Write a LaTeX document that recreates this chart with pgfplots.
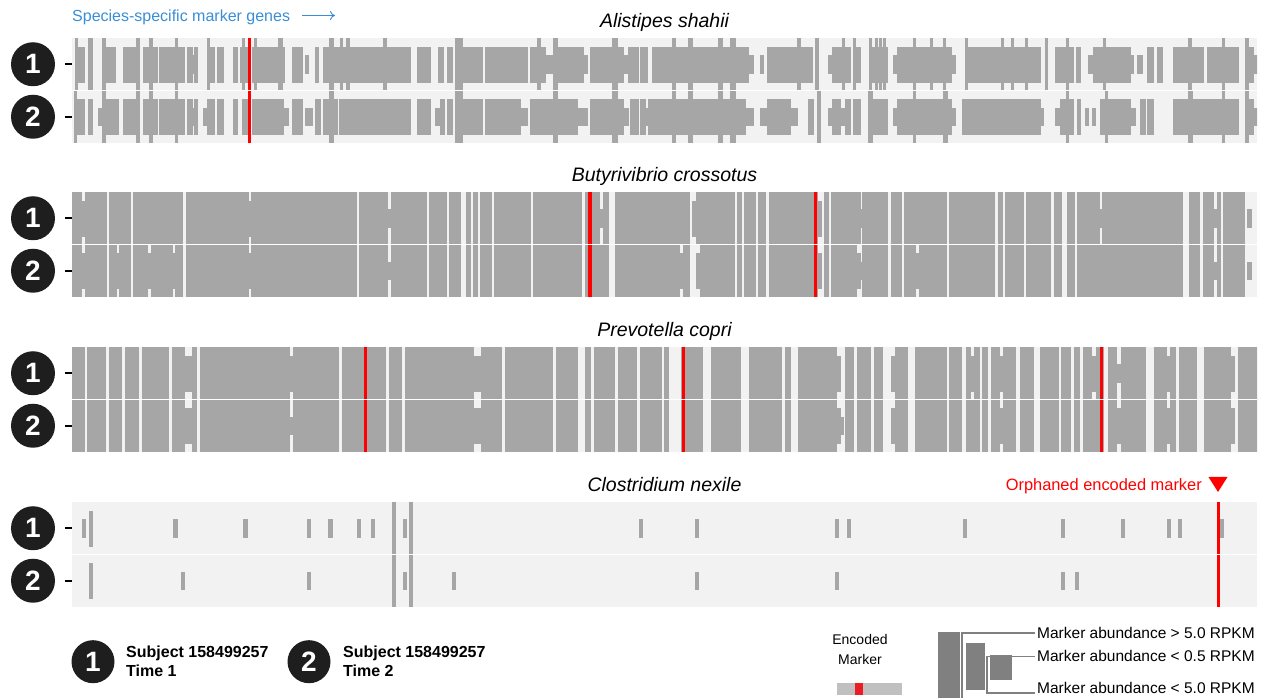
\documentclass[border=0pt]{standalone}
\usepackage{fontspec}
\setmainfont{Liberation Sans}
\usepackage{pgfplots}
\pgfplotsset{compat=1.18}
\usepackage{pgfplotstable}
\usetikzlibrary{arrows.meta}
\definecolor{bgc}{HTML}{F2F2F2}
\definecolor{barc}{HTML}{A6A6A6}
\definecolor{mred}{HTML}{FF0000}
\definecolor{circ}{HTML}{1E1E1E}
\definecolor{blu}{HTML}{3A8DD6}
\definecolor{leggray}{HTML}{808080}
\definecolor{legbar}{HTML}{C0C0C0}
\definecolor{legred}{HTML}{ED1C24}
\pgfdeclareplotmark{emptymark}{}

% marker genes: level 0 none, 1 < 0.5 RPKM, 2 < 5.0 RPKM, 3 > 5.0 RPKM ; level holds from x to next x
\pgfplotstableread[row sep=\\]{x l\\72 0\\75 3\\77 2\\84 0\\88 3\\92 0\\102 3\\105 2\\115 0\\123 2\\136 3\\139 0\\143 2\\149 3\\152 2\\157 0\\159 2\\175 3\\177 2\\184 0\\187 2\\192 1\\194 2\\197 0\\207 3\\209 2\\214 0\\217 2\\223 0\\233 2\\237 0\\240 2\\242 3\\244 2\\248 0\\252 2\\254 3\\256 2\\267 0\\268 2\\278 3\\282 2\\284 0\\292 2\\302 0\\305 1\\308 0\\315 2\\318 0\\323 2\\329 3\\333 2\\337 0\\338 2\\340 3\\342 2\\346 3\\349 2\\383 3\\386 2\\410 0\\417 2\\430 0\\438 2\\443 0\\447 2\\452 0\\455 3\\462 2\\482 0\\485 2\\527 0\\530 2\\537 3\\540 2\\545 1\\553 3\\557 2\\583 1\\587 0\\590 2\\612 3\\617 0\\618 2\\623 1\\628 2\\638 0\\640 2\\647 0\\652 2\\672 3\\675 2\\687 0\\688 3\\692 2\\718 3\\722 2\\730 3\\735 2\\748 1\\753 0\\760 1\\763 0\\767 2\\797 3\\800 2\\812 0\\815 3\\818 0\\828 1\\832 2\\842 3\\844 2\\850 0\\853 3\\855 2\\860 0\\869 3\\871 2\\875 3\\877 2\\879 3\\881 2\\883 3\\885 2\\887 0\\893 1\\897 2\\913 3\\915 2\\930 3\\932 2\\943 3\\945 2\\951 1\\955 0\\965 3\\967 2\\1001 3\\1003 2\\1011 3\\1013 2\\1025 3\\1027 2\\1040 0\\1045 3\\1047 0\\1055 2\\1066 3\\1068 2\\1073 0\\1076 2\\1080 0\\1088 1\\1093 2\\1097 0\\1098 2\\1102 0\\1103 3\\1105 2\\1130 1\\1133 0\\1137 1\\1142 0\\1147 2\\1153 0\\1157 2\\1162 0\\1173 2\\1188 3\\1191 2\\1203 0\\1207 2\\1222 3\\1224 2\\1238 0\\1245 3\\1248 2\\1253 1\\1257 0\\}\rowAa
\pgfplotstableread[row sep=\\]{x l\\72 0\\74 3\\76 2\\84 0\\88 2\\92 0\\98 1\\102 3\\105 2\\118 0\\123 2\\136 3\\139 0\\143 2\\149 3\\152 2\\157 0\\159 2\\175 3\\177 2\\184 0\\187 2\\192 1\\194 2\\197 0\\203 1\\207 2\\214 0\\217 2\\223 0\\233 2\\237 0\\242 2\\247 0\\252 2\\267 0\\268 2\\283 1\\288 0\\292 2\\302 0\\305 1\\312 0\\315 2\\320 0\\323 2\\329 3\\333 2\\337 0\\339 2\\410 0\\417 2\\430 0\\435 1\\440 2\\444 0\\447 2\\452 0\\455 3\\462 2\\482 0\\485 2\\520 1\\527 0\\530 2\\553 3\\557 2\\577 1\\587 0\\590 2\\612 3\\617 0\\618 2\\623 1\\628 0\\630 2\\638 0\\640 2\\645 1\\648 2\\672 3\\675 2\\687 0\\688 3\\692 2\\718 3\\722 2\\730 3\\735 2\\745 1\\753 0\\760 1\\767 2\\790 1\\797 0\\808 2\\813 0\\817 3\\820 0\\828 1\\832 2\\840 1\\845 2\\850 0\\853 2\\860 0\\868 3\\872 2\\887 0\\893 1\\897 2\\913 3\\915 2\\943 3\\947 2\\951 1\\955 0\\962 2\\972 0\\973 2\\987 0\\988 2\\1040 1\\1043 0\\1055 1\\1060 2\\1066 3\\1068 2\\1073 0\\1077 2\\1080 0\\1085 1\\1088 0\\1092 1\\1095 0\\1100 2\\1105 3\\1107 2\\1130 1\\1135 0\\1140 2\\1145 0\\1147 2\\1153 0\\1173 2\\1188 3\\1192 2\\1222 3\\1224 2\\1238 0\\1245 3\\1248 2\\1253 1\\1257 0\\}\rowAb
\pgfplotstableread[row sep=\\]{x l\\72 3\\81 2\\85 3\\106 0\\109 3\\130 0\\133 3\\182 0\\186 3\\248 2\\251 3\\356 0\\359 3\\387 1\\391 3\\426 0\\429 3\\446 0\\449 3\\460 0\\466 3\\470 0\\473 3\\477 0\\480 3\\491 0\\494 3\\530 0\\533 3\\581 0\\585 3\\599 1\\603 3\\608 0\\615 3\\689 0\\692 2\\696 3\\734 0\\737 3\\741 0\\744 3\\755 0\\758 3\\765 0\\769 3\\817 2\\821 0\\824 3\\828 0\\831 3\\860 1\\862 3\\887 0\\891 3\\901 0\\904 3\\946 0\\949 3\\994 0\\998 3\\1002 0\\1005 3\\1023 0\\1026 3\\1050 0\\1054 3\\1061 0\\1067 3\\1074 0\\1077 3\\1099 1\\1102 3\\1182 0\\1189 3\\1199 0\\1203 3\\1213 1\\1217 3\\1220 0\\1223 3\\1244 0\\1247 1\\1251 0\\1257 0\\}\rowBa
\pgfplotstableread[row sep=\\]{x l\\72 3\\81 2\\85 3\\106 0\\109 3\\116 2\\119 3\\130 0\\133 3\\147 2\\151 3\\172 2\\175 3\\182 0\\186 3\\248 2\\251 3\\356 0\\359 3\\387 1\\391 3\\426 0\\429 3\\446 0\\449 3\\460 0\\466 3\\470 0\\473 3\\477 0\\480 3\\491 0\\494 3\\530 0\\533 3\\581 0\\585 3\\608 0\\615 3\\679 2\\683 3\\689 0\\696 2\\700 3\\734 0\\737 3\\741 0\\744 3\\755 0\\758 3\\765 0\\769 3\\817 2\\821 0\\824 3\\828 0\\831 3\\856 2\\860 1\\862 3\\887 0\\891 3\\901 0\\904 3\\915 2\\919 3\\946 0\\949 3\\994 0\\998 3\\1002 0\\1005 3\\1023 0\\1026 3\\1050 0\\1054 3\\1061 0\\1067 3\\1074 0\\1077 3\\1182 0\\1189 3\\1199 0\\1203 3\\1213 1\\1217 3\\1220 0\\1223 3\\1244 0\\1247 1\\1251 0\\1257 0\\}\rowBb
\pgfplotstableread[row sep=\\]{x l\\72 3\\84 0\\87 3\\105 0\\109 3\\121 0\\125 3\\138 0\\142 3\\168 0\\172 3\\184 2\\192 3\\196 0\\200 3\\289 2\\293 3\\338 0\\342 3\\385 0\\389 3\\401 0\\405 3\\473 2\\481 3\\501 0\\505 3\\552 0\\556 3\\577 0\\585 3\\590 0\\594 3\\614 0\\618 3\\636 0\\640 3\\661 0\\664 3\\668 0\\681 3\\702 0\\711 3\\740 0\\749 3\\781 0\\785 3\\790 0\\798 3\\836 2\\840 0\\845 3\\853 0\\857 3\\870 0\\874 3\\882 0\\891 2\\895 3\\907 0\\915 3\\946 0\\949 3\\961 0\\966 3\\970 2\\974 3\\979 0\\982 3\\987 0\\991 3\\999 2\\1003 3\\1015 0\\1020 3\\1033 0\\1040 3\\1058 0\\1061 3\\1070 0\\1074 3\\1079 0\\1083 3\\1091 2\\1096 3\\1103 0\\1108 3\\1116 1\\1121 3\\1145 0\\1154 3\\1166 2\\1170 3\\1175 0\\1179 3\\1196 0\\1204 3\\1230 2\\1234 0\\1238 3\\1257 0\\}\rowCa
\pgfplotstableread[row sep=\\]{x l\\72 3\\84 0\\87 3\\105 0\\109 3\\121 0\\125 3\\138 0\\142 3\\168 0\\172 3\\184 2\\192 3\\196 0\\200 3\\289 1\\293 3\\338 0\\342 3\\385 0\\389 3\\401 0\\405 3\\473 2\\481 3\\501 0\\505 3\\552 0\\556 3\\577 0\\585 3\\590 0\\594 3\\614 0\\618 3\\636 0\\640 3\\661 0\\664 3\\668 0\\681 3\\702 0\\711 3\\740 0\\749 3\\781 0\\785 3\\790 0\\798 3\\836 2\\840 1\\843 0\\845 3\\853 0\\857 3\\870 0\\874 3\\882 0\\891 2\\895 3\\907 0\\915 3\\946 0\\949 3\\961 0\\966 3\\979 0\\982 3\\987 0\\991 3\\999 2\\1003 3\\1015 0\\1020 3\\1033 0\\1040 3\\1058 0\\1061 3\\1070 0\\1074 3\\1079 0\\1083 3\\1103 0\\1108 3\\1116 2\\1121 3\\1145 0\\1154 3\\1166 2\\1170 3\\1175 0\\1179 3\\1196 0\\1204 3\\1230 2\\1234 0\\1238 3\\1257 0\\}\rowCb
\pgfplotstableread[row sep=\\]{x l\\72 0\\82 1\\85 0\\89 2\\92 0\\173 1\\177 0\\243 1\\247 0\\307 1\\310 0\\328 1\\332 0\\357 1\\360 0\\371 1\\374 0\\392 3\\395 0\\403 1\\406 0\\409 3\\412 0\\639 1\\642 0\\695 1\\698 0\\835 1\\838 0\\847 1\\850 0\\963 1\\966 0\\1061 1\\1064 0\\1121 1\\1124 0\\1167 1\\1170 0\\1178 1\\1181 0\\1220 1\\1223 0\\1257 0\\}\rowDa
\pgfplotstableread[row sep=\\]{x l\\72 0\\89 2\\92 0\\181 1\\184 0\\307 1\\310 0\\392 3\\395 0\\403 1\\406 0\\409 3\\412 0\\452 1\\455 0\\695 1\\698 0\\835 1\\838 0\\1061 1\\1064 0\\1075 1\\1078 0\\1257 0\\}\rowDb
% segment widths (distance to the next breakpoint)
\pgfplotstablecreatecol[create col/expr={(0+\nextrow{x})-\thisrow{x}}]{w}\rowAa
\pgfplotstablecreatecol[create col/expr={(0+\nextrow{x})-\thisrow{x}}]{w}\rowAb
\pgfplotstablecreatecol[create col/expr={(0+\nextrow{x})-\thisrow{x}}]{w}\rowBa
\pgfplotstablecreatecol[create col/expr={(0+\nextrow{x})-\thisrow{x}}]{w}\rowBb
\pgfplotstablecreatecol[create col/expr={(0+\nextrow{x})-\thisrow{x}}]{w}\rowCa
\pgfplotstablecreatecol[create col/expr={(0+\nextrow{x})-\thisrow{x}}]{w}\rowCb
\pgfplotstablecreatecol[create col/expr={(0+\nextrow{x})-\thisrow{x}}]{w}\rowDa
\pgfplotstablecreatecol[create col/expr={(0+\nextrow{x})-\thisrow{x}}]{w}\rowDb
% encoded (red) markers
\pgfplotstableread[row sep=\\]{x h\\249.5 2\\}\redA
\pgfplotstableread[row sep=\\]{x h\\590 2\\815.5 2\\}\redB
\pgfplotstableread[row sep=\\]{x h\\365.5 2\\683.5 2\\1101.5 2\\}\redC
\pgfplotstableread[row sep=\\]{x h\\1218.5 2\\}\redD

\pgfplotsset{
  segs/.style={
    scatter, only marks, mark=emptymark, forget plot,
    point meta={\thisrow{l}},
    restrict expr to domain={\thisrow{l}}{0.5:3.5},
    visualization depends on={\thisrow{w} \as \wid},
    visualization depends on={8.75*\thisrow{l} \as \hh},
    scatter/@pre marker code/.code={\fill[barc] (0pt,-\hh pt) rectangle (\wid pt,\hh pt);},
    scatter/@post marker code/.code={},
  },
  panel/.style={
    scale only axis, width=1185pt, height=105pt,
    xmin=72, xmax=1257, ymin=0, ymax=2,
    clip marker paths=true,
    axis background/.style={fill=bgc},
    axis line style={draw=none},
    xtick=\empty,
    ytick={0.5,1.5}, yticklabels={\textbf{2},\textbf{1}}, ytick pos=left,
    tick align=outside, major tick length=7pt,
    ytick style={draw=black, line width=1.8pt},
    yticklabel style={circle, fill=circ, text=white, inner sep=0pt, minimum size=44pt,
      font=\fontsize{28}{28}\selectfont\bfseries, anchor=center, xshift=-32pt},
    title style={font=\fontsize{19.5}{23}\selectfont\itshape, at={(0.5,1)}, anchor=base, yshift=4pt, inner sep=0pt},
  },
}
\newcommand{\panelbody}[3]{%
  \addplot[segs] table[x=x, y expr=1.5] {#1};
  \addplot[segs] table[x=x, y expr=0.5] {#2};
  \addplot[ycomb, mred, line width=3.5pt, mark=none, forget plot] table[x=x, y=h] {#3};
  \addplot[white, line width=1.1pt, forget plot] coordinates {(72,1) (1257,1)};
}

\begin{document}
\begin{tikzpicture}
\useasboundingbox (0,0) rectangle (1270pt,698pt);

\begin{axis}[panel, at={(72pt,555pt)}, anchor=south west, title={Alistipes shahii}]
\panelbody{\rowAa}{\rowAb}{\redA}
\end{axis}
\begin{axis}[panel, at={(72pt,401pt)}, anchor=south west, title={Butyrivibrio crossotus}]
\panelbody{\rowBa}{\rowBb}{\redB}
\end{axis}
\begin{axis}[panel, at={(72pt,246pt)}, anchor=south west, title={Prevotella copri}]
\panelbody{\rowCa}{\rowCb}{\redC}
\end{axis}
\begin{axis}[panel, at={(72pt,91pt)}, anchor=south west, title={Clostridium nexile}]
\panelbody{\rowDa}{\rowDb}{\redD}
\end{axis}

% annotations
\node[anchor=base west, text=blu, font=\fontsize{16}{19}\selectfont, inner sep=0pt] at (72pt,676.5pt) {Species-specific marker genes};
\draw[blu, line width=0.9pt, -{To[length=5pt,width=9pt]}] (302pt,682.5pt) -- (335pt,682.5pt);
\node[anchor=base east, text=mred, font=\fontsize{16.4}{19}\selectfont, inner sep=0pt] at (1202pt,207pt) {Orphaned encoded marker};
\fill[mred] (1208.5pt,221pt) -- (1227.5pt,221pt) -- (1218pt,206pt) -- cycle;

% legend: subjects
\node[circle, fill=circ, minimum size=43pt, inner sep=0pt, text=white, font=\fontsize{28}{28}\selectfont\bfseries] at (93pt,36.3pt) {1};
\node[anchor=base west, font=\fontsize{16}{19}\selectfont\bfseries, inner sep=0pt] at (126pt,40pt) {Subject 158499257};
\node[anchor=base west, font=\fontsize{16}{19}\selectfont\bfseries, inner sep=0pt] at (126pt,21.3pt) {Time 1};
\node[circle, fill=circ, minimum size=43pt, inner sep=0pt, text=white, font=\fontsize{28}{28}\selectfont\bfseries] at (309pt,36.3pt) {2};
\node[anchor=base west, font=\fontsize{16}{19}\selectfont\bfseries, inner sep=0pt] at (343pt,40pt) {Subject 158499257};
\node[anchor=base west, font=\fontsize{16}{19}\selectfont\bfseries, inner sep=0pt] at (343pt,21.3pt) {Time 2};

% legend: encoded marker
\node[anchor=base, font=\fontsize{14}{17}\selectfont, inner sep=0pt] at (860pt,53.3pt) {Encoded};
\node[anchor=base, font=\fontsize{14}{17}\selectfont, inner sep=0pt] at (860pt,33.3pt) {Marker};
\fill[legbar] (837pt,2.7pt) rectangle (902pt,15pt);
\fill[legred] (855pt,2.7pt) rectangle (863pt,15pt);

% legend: abundance
\fill[leggray] (938pt,0pt) rectangle (960pt,66pt);
\fill[leggray] (966pt,8.3pt) rectangle (985pt,55pt);
\fill[leggray] (990pt,17.7pt) rectangle (1012pt,43pt);
\draw[leggray, line width=1.2pt] (962pt,0pt) -- (962pt,65pt) -- (1035pt,65pt);
\draw[leggray, line width=1.2pt] (988pt,41.5pt) -- (1035pt,41.5pt);
\draw[leggray, line width=1.2pt] (987pt,41.5pt) -- (987pt,5pt) -- (1035pt,5pt);
\node[anchor=base west, font=\fontsize{15.5}{18}\selectfont, inner sep=0pt] at (1037pt,59.5pt) {Marker abundance > 5.0 RPKM};
\node[anchor=base west, font=\fontsize{15.5}{18}\selectfont, inner sep=0pt] at (1037pt,36pt) {Marker abundance < 0.5 RPKM};
\node[anchor=base west, font=\fontsize{15.5}{18}\selectfont, inner sep=0pt] at (1037pt,4pt) {Marker abundance < 5.0 RPKM};
\end{tikzpicture}
\end{document}
